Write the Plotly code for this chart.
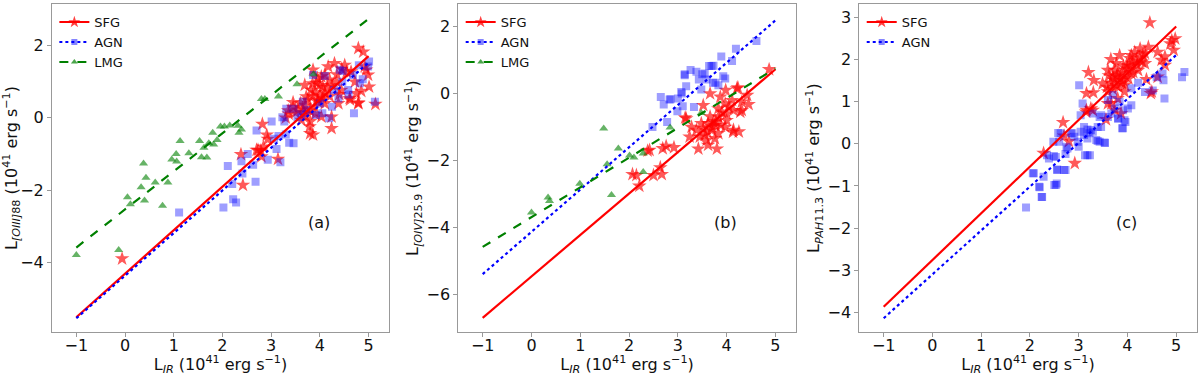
import plotly.graph_objects as go

# --- data: [L_IR, L_line] in log units ---
sfg_a = [[-0.06, -3.90], [2.42, -1.86], [2.38, -1.01], [2.70, -0.89], [2.79, -0.91], [2.84, -0.80],
         [2.82, -0.17], [2.91, -0.47], [2.93, -0.59], [3.14, -1.14], [2.80, -1.07], [3.36, 0.11],
         [3.45, 0.43], [3.55, 0.22], [3.62, -0.06], [3.69, 0.13], [3.72, 0.59], [3.79, -0.24],
         [3.80, -0.43], [3.82, 0.77], [3.86, 1.33], [3.89, 0.31], [3.93, 0.96], [3.96, 0.50],
         [4.00, 0.63], [4.03, 1.14], [4.06, 0.86], [4.10, 0.40], [4.17, 1.42], [4.20, 1.05],
         [4.24, 0.03], [4.24, -0.29], [4.30, 1.51], [4.34, 1.00], [4.38, 0.40], [4.44, 0.77],
         [4.51, 1.46], [4.55, 1.28], [4.61, 0.54], [4.64, 1.28], [4.72, 1.00], [4.75, 0.68],
         [4.79, 1.93], [4.79, 0.40], [4.89, 1.83], [4.92, 1.42], [4.95, 1.33], [4.99, 1.19],
         [5.01, 0.86], [5.14, 0.38], [4.85, 0.74], [4.03, 0.03], [3.86, -0.47], [3.70, 0.35],
         [3.75, 0.50], [3.85, 0.60], [3.90, 0.70], [3.95, 0.45], [4.00, 0.90], [4.05, 0.55],
         [4.10, 0.70], [4.15, 0.85], [3.80, 0.20], [3.65, 0.25], [3.90, 0.10], [4.20, 0.60],
         [4.25, 0.90], [3.60, 0.40], [3.85, 0.95], [3.95, 1.10], [4.10, 1.20], [3.70, 0.05],
         [3.80, -0.10], [3.50, 0.15], [3.45, 0.30], [4.35, 1.20], [4.45, 1.35], [4.40, 0.65],
         [3.30, 0.00], [3.35, 0.20], [2.73, -0.89], [3.69, 0.91], [4.62, 0.50], [4.79, 0.42]]
agn_a = [[1.11, -2.62], [2.02, -2.48], [2.11, -1.33], [2.20, -1.83], [2.22, -2.25], [2.28, -2.34],
         [2.39, -1.20], [2.41, -1.54], [2.52, -1.00], [2.63, -1.30], [2.70, -0.35], [2.68, -1.77],
         [2.93, -1.16], [3.01, -0.10], [3.06, -0.58], [3.11, -0.86], [3.15, -0.50], [3.19, -1.23],
         [3.23, 0.02], [3.27, -0.10], [3.30, -0.46], [3.31, 0.25], [3.37, -0.69], [3.46, -0.70],
         [3.46, 0.25], [3.54, 0.02], [3.62, 0.10], [3.65, 0.45], [3.86, 1.19], [3.92, 0.08],
         [4.00, 0.40], [4.05, 0.13], [4.10, 1.16], [4.19, -0.01], [4.25, 0.31], [4.29, 0.77],
         [4.38, 0.54], [4.41, 1.33], [4.46, 1.00], [4.58, 0.77], [4.59, 0.65], [4.68, 1.19],
         [4.70, 0.13], [4.82, 0.96], [4.88, 1.07], [4.99, 1.42], [5.01, 1.56], [5.13, 0.45],
         [4.80, 1.46], [4.47, 1.30], [3.72, 0.22]]
lmg_a = [[-1.00, -3.80], [-0.13, -3.66], [0.05, -2.20], [0.11, -2.39], [0.38, -1.26], [0.43, -1.66],
         [0.33, -1.92], [0.40, -2.29], [0.62, -1.79], [0.77, -2.43], [0.88, -1.79], [0.96, -1.15],
         [1.05, -1.00], [1.06, -1.21], [1.13, -0.64], [1.31, -0.98], [1.53, -0.64], [1.57, -1.09],
         [1.68, -1.10], [1.62, -0.83], [1.80, -0.41], [1.72, -0.70], [1.82, -0.74], [1.89, -0.61],
         [1.96, -0.24], [2.04, -0.24], [2.15, -0.21], [2.32, -0.22], [2.34, -0.41], [2.39, -0.32],
         [2.80, 0.52], [2.87, 0.52], [3.15, 0.59], [3.53, 0.93], [3.87, 1.21]]

sfg_b = [[2.07, -2.42], [2.15, -2.45], [2.21, -2.77], [2.38, -1.72], [2.42, -1.70], [2.50, -2.45],
         [2.64, -2.22], [2.67, -2.42], [2.69, -1.65], [2.76, -1.58], [2.92, -1.62], [3.17, -0.76],
         [3.28, -1.01], [3.42, -1.66], [3.52, -0.36], [3.66, -0.01], [3.87, -0.11], [3.98, 0.09],
         [4.21, 0.14], [4.87, 0.71], [3.80, -1.66], [3.62, -1.55], [4.14, -1.10], [4.25, -1.15],
         [4.45, -0.33], [4.42, -0.06], [4.31, -0.26], [4.11, -0.21], [4.04, -0.41], [3.90, -0.56],
         [3.83, -0.71], [3.73, -0.86], [3.62, -0.90], [3.52, -1.05], [3.69, -1.10], [3.55, -1.25],
         [3.45, -1.30], [3.59, -1.40], [3.83, -1.20], [3.97, -1.01], [4.00, -0.81], [3.76, -0.96],
         [3.38, -1.10], [3.24, -1.30], [3.48, -0.90], [3.83, -0.46], [3.97, -0.31], [4.14, -0.51],
         [4.28, -0.56], [3.76, -1.35], [4.13, -1.16], [4.00, -0.61], [4.31, -0.51], [3.15, -0.73],
         [4.23, 0.17], [3.66, -0.70], [3.70, -1.00], [3.60, -1.15], [3.78, -0.85], [3.88, -0.95]]
agn_b = [[2.48, -1.01], [2.78, -0.86], [2.65, -0.11], [2.71, -0.34], [2.83, -0.19], [2.99, -0.54],
         [3.00, -0.16], [3.08, -0.01], [3.10, -0.39], [3.14, 0.54], [3.17, 0.21], [3.26, 0.69],
         [3.33, -0.41], [3.38, 0.64], [3.43, 0.41], [3.48, 0.11], [3.55, 0.59], [3.64, 0.81],
         [3.69, 0.81], [3.72, 0.31], [3.77, 0.31], [3.83, 0.24], [3.89, 1.10], [3.93, 0.51],
         [3.97, 0.44], [4.11, 0.96], [4.19, 1.33], [4.61, 1.56], [3.50, 0.57], [3.59, 0.41],
         [3.73, 0.82], [3.07, 0.04], [2.85, -0.18], [3.14, 0.57]]
lmg_b = [[0.00, -3.56], [0.34, -3.11], [0.37, -3.22], [0.99, -2.70], [1.48, -1.05], [1.55, -2.12],
         [1.64, -3.04], [1.78, -1.65], [2.01, -1.86], [2.10, -1.92], [2.29, -2.35], [2.29, -1.80],
         [2.84, -1.02], [3.48, -0.59]]

sfg_c = [[4.46, 2.88], [2.28, -0.22], [2.68, 0.51], [2.70, 0.19], [2.80, 0.06], [2.92, -0.46],
         [3.20, 1.70], [3.31, 1.51], [3.16, 1.20], [3.30, 1.22], [3.16, 0.80], [3.29, 0.80],
         [3.56, 0.58], [3.60, 0.96], [3.66, 2.01], [4.48, 1.20], [4.62, 2.18], [4.77, 1.87],
         [4.91, 2.46], [4.98, 2.50], [4.95, 2.23], [4.39, 1.53], [4.62, 1.59], [3.60, 1.75],
         [3.49, 1.43], [3.70, 1.59], [3.80, 1.67], [3.91, 1.51], [3.77, 1.39], [3.98, 1.87],
         [4.05, 2.03], [4.15, 2.18], [4.26, 2.26], [4.36, 2.15], [4.43, 2.30], [4.36, 1.91],
         [4.22, 1.75], [4.08, 1.67], [3.94, 1.24], [3.80, 1.08], [3.67, 0.96], [3.60, 1.24],
         [4.70, 1.99], [4.77, 2.07], [4.88, 2.38], [4.50, 1.24], [3.74, 0.80], [3.87, 0.72],
         [3.77, 1.91], [3.84, 2.10], [3.15, 0.76], [3.25, 0.84], [3.65, 1.45], [3.72, 1.52],
         [3.78, 1.60], [3.85, 1.55], [3.90, 1.70], [3.95, 1.62], [4.00, 1.78], [4.05, 1.85],
         [4.10, 1.92], [4.18, 1.98], [4.25, 2.05], [4.30, 1.95], [3.70, 1.30], [3.82, 1.35],
         [3.88, 1.45], [3.95, 1.40], [4.02, 1.55], [4.12, 1.70], [4.20, 1.88], [3.62, 1.62],
         [3.58, 1.35], [3.75, 1.75], [3.92, 1.85], [4.08, 2.10], [4.32, 2.12]]
agn_c = [[1.92, -1.51], [2.06, -0.70], [2.19, -1.02], [2.24, -1.26], [2.28, -0.78], [2.35, -0.27],
         [2.48, 0.05], [2.49, -0.29], [2.50, -0.98], [2.55, -0.94], [2.56, -0.61], [2.58, 0.26],
         [2.70, -0.62], [2.73, -0.24], [2.75, -0.07], [2.84, 0.25], [2.91, 0.17], [3.00, -0.07],
         [3.01, 1.39], [3.04, 0.68], [3.08, 0.96], [3.11, 0.40], [3.13, -0.27], [3.23, -0.27],
         [3.18, 0.13], [3.25, 0.33], [3.29, 0.72], [3.36, 0.09], [3.43, 0.64], [3.46, 0.40],
         [3.43, 0.05], [3.53, 0.03], [3.60, 1.04], [3.70, 1.16], [3.67, 0.72], [3.74, 0.84],
         [3.81, 0.60], [3.84, 1.00], [3.89, 0.37], [3.91, 0.80], [3.96, 0.52], [4.01, 0.84],
         [4.08, 1.32], [4.22, 1.45], [4.36, 1.23], [4.52, 1.27], [4.60, 1.58], [4.72, 1.67],
         [4.74, 1.51], [4.76, 1.08], [5.12, 1.58], [5.17, 1.71], [4.08, 0.92], [2.87, 0.25],
         [3.04, 0.29], [3.18, 0.34], [3.29, 0.29], [3.11, 0.21], [2.98, 0.05], [3.22, 0.25],
         [3.39, 0.40], [2.63, 0.25], [2.60, 0.05], [2.77, -0.11], [2.53, -0.31], [2.39, -0.35],
         [2.56, -0.62], [2.73, -0.62], [3.18, -0.27], [3.39, 0.07], [3.54, 0.02], [2.08, -0.70],
         [2.53, -0.98], [2.20, -1.03], [2.25, -1.26], [3.46, 0.68], [3.60, 0.64], [3.81, 0.60],
         [3.94, 0.56], [3.91, 0.37]]

# linear fits (slope, intercept), drawn over L_IR = -1..5
fit_x = [-1, 5]
fit_sfg = [(1.205, -4.315), (1.237, -5.47), (1.11, -2.76)]
fit_agn = [(1.18, -4.37), (1.263, -4.14), (1.042, -3.10)]
fit_lmg = [(1.055, -2.535), (0.888, -3.70), None]

UNIT = " (10<sup>41</sup>\u00a0erg s<sup>−1</sup>)"
y_titles = ["L<sub><i>[OIII]</i>88</sub>" + UNIT,
            "L<sub><i>[OIV]</i>25.9</sub>" + UNIT,
            "L<sub><i>PAH</i>11.3</sub>" + UNIT]
x_title = "L<sub><i>IR</i></sub>" + UNIT
panel_labels = ["(a)", "(b)", "(c)"]
y_ranges = [[-5.93, 3.15], [-7.13, 2.66], [-4.47, 3.32]]
y_ticks = [[-4, -2, 0, 2], [-6, -4, -2, 0, 2], [-4, -3, -2, -1, 0, 1, 2, 3]]

FONT = "DejaVu Sans"
RED, BLUE, GREEN = "#ff0000", "#0000ff", "#008000"
x_domains = [[0.0433, 0.3242], [0.3819, 0.6633], [0.7161, 0.9972]]
y_domain = [0.117, 0.989]

fig = go.Figure()

panels = [(sfg_a, agn_a, lmg_a), (sfg_b, agn_b, lmg_b), (sfg_c, agn_c, None)]
for p, (sfg, agn, lmg) in enumerate(panels):
    sfx = "" if p == 0 else str(p + 1)
    xa, ya, lg = "x" + sfx, "y" + sfx, "legend" + sfx

    groups = [("SFG", sfg, fit_sfg[p], RED, "star", 11, 0.65, "solid"),
              ("AGN", agn, fit_agn[p], BLUE, "square", 8, 0.38, "dot")]
    if lmg is not None:
        groups.append(("LMG", lmg, fit_lmg[p], GREEN, "triangle-up", 8, 0.6, "dash"))

    for name, pts, fit, col, sym, size, op, dash in groups:
        xs, ys = zip(*pts)
        fig.add_trace(go.Scatter(x=xs, y=ys, mode="markers", xaxis=xa, yaxis=ya,
                                 marker=dict(symbol=sym, size=size, color=col, opacity=op, line=dict(width=0)),
                                 showlegend=False, hoverinfo="skip"))
    for name, pts, fit, col, sym, size, op, dash in groups:
        m, b = fit
        fig.add_trace(go.Scatter(x=fit_x, y=[m * v + b for v in fit_x], mode="lines", xaxis=xa, yaxis=ya,
                                 line=dict(color=col, width=2.2, dash=dash), showlegend=False, hoverinfo="skip"))
    # legend handles: line + marker, like the matplotlib legend
    for name, pts, fit, col, sym, size, op, dash in groups:
        fig.add_trace(go.Scatter(x=[None], y=[None], mode="lines+markers", xaxis=xa, yaxis=ya, name=name,
                                 legend=lg, line=dict(color=col, width=2, dash=dash),
                                 marker=dict(symbol=sym, size=size - 2, color=col, opacity=op + 0.1)))

    axis_style = dict(showline=True, mirror=True, linecolor="#999999", linewidth=1, ticks="outside",
                      tickcolor="#999999", ticklen=4, showgrid=False, zeroline=False,
                      tickfont=dict(family=FONT, size=16, color="#111"))
    fig.layout["xaxis" + sfx] = dict(axis_style, domain=x_domains[p], anchor=ya, range=[-1.5, 5.42],
                                     tickvals=[-1, 0, 1, 2, 3, 4, 5], ticklabelstandoff=-5,
                                     title=dict(text=x_title, font=dict(family=FONT, size=16, color="#111"),
                                                standoff=6))
    fig.layout["yaxis" + sfx] = dict(axis_style, domain=y_domain, anchor=xa, range=y_ranges[p],
                                     tickvals=y_ticks[p],
                                     title=dict(text=y_titles[p], font=dict(family=FONT, size=16, color="#111"),
                                                standoff=3))
    fig.layout[lg] = dict(x=x_domains[p][0] + 0.002, y=y_domain[1] - 0.008, xanchor="left", yanchor="top",
                          bgcolor="rgba(0,0,0,0)", font=dict(family=FONT, size=13, color="#111"),
                          itemwidth=30, tracegroupgap=0)
    fig.add_annotation(text=panel_labels[p], xref=xa + " domain", yref=ya + " domain", x=0.83, y=0.30,
                       showarrow=False, font=dict(family=FONT, size=16, color="#111"))

fig.update_layout(width=1200, height=376, margin=dict(l=0, r=0, t=0, b=0),
                  paper_bgcolor="white", plot_bgcolor="white", font=dict(family=FONT))

# drop the browser's default 8px body margin so the figure sits at the page corner
fig.write_html("out.html", config={"displayModeBar": False},
               post_script="document.body.style.margin='0';")
